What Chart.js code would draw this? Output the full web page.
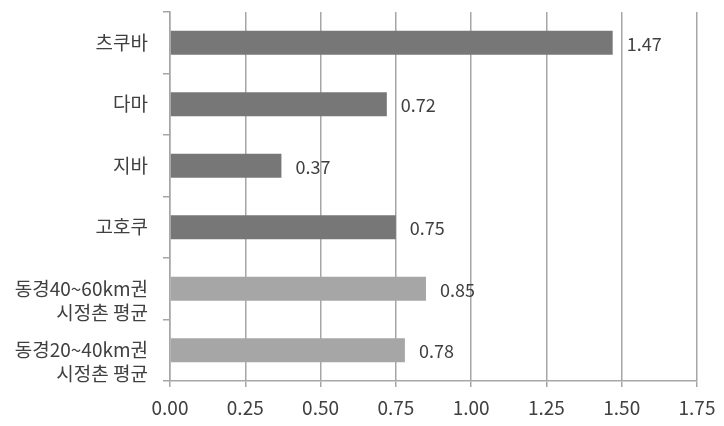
<!DOCTYPE html>
<html>
<head>
<meta charset="utf-8">
<script src="https://cdn.jsdelivr.net/npm/chart.js@4/dist/chart.umd.min.js"></script>
<style>
  html, body { margin: 0; padding: 0; background: #fff; }
  #wrap { width: 724px; height: 426px; }
</style>
</head>
<body>
<div id="wrap"><canvas id="chart1"></canvas></div>
<script>
var categories = ['츠쿠바', '다마', '지바', '고호쿠', ['동경40~60km권', '시정촌 평균'], ['동경20~40km권', '시정촌 평균']];
var values = [1.47, 0.72, 0.37, 0.75, 0.85, 0.78];
var barColors = ['#777777', '#777777', '#777777', '#777777', '#a6a6a6', '#a6a6a6'];

var FONT = '"Noto Sans CJK KR", sans-serif';

/* value labels at the end of each bar */
var valueLabels = {
    id: 'valueLabels',
    afterDatasetsDraw: function (chart) {
        var ctx = chart.ctx;
        var meta = chart.getDatasetMeta(0);
        ctx.save();
        ctx.font = '18px ' + FONT;
        ctx.fillStyle = '#404040';
        ctx.textBaseline = 'middle';
        ctx.textAlign = 'left';
        meta.data.forEach(function (bar, i) {
            ctx.fillText(values[i].toFixed(2), bar.x + 14, bar.y + 1);
        });
        ctx.restore();
    }
};

var ctx = document.getElementById('chart1').getContext('2d');
var chart1 = new Chart(ctx, {
    type: 'bar',
    data: {
        labels: categories,
        datasets: [{
            data: values,
            backgroundColor: barColors,
            borderWidth: 0,
            categoryPercentage: 0.8,
            barPercentage: 0.49
        }]
    },
    options: {
        indexAxis: 'y',
        responsive: true,
        maintainAspectRatio: false,
        animation: false,
        layout: { padding: { left: 0, right: 27, top: 12, bottom: 0 } },
        plugins: {
            legend: { display: false },
            tooltip: { enabled: false }
        },
        scales: {
            x: {
                min: 0,
                max: 1.75,
                ticks: {
                    stepSize: 0.25,
                    padding: 9,
                    color: '#404040',
                    font: { family: FONT, size: 19 },
                    callback: function (v) { return v.toFixed(2); }
                },
                grid: { color: '#a6a6a6', lineWidth: 1.5, tickLength: 6 },
                border: { color: '#a6a6a6', width: 1.5 },
                afterFit: function (scale) {
                    scale.height = 45;
                    scale.paddingLeft = 0;
                    scale.paddingRight = 0;
                }
            },
            y: {
                ticks: {
                    autoSkip: false,
                    padding: 15,
                    color: '#404040',
                    font: { family: FONT, size: 19, lineHeight: 1.25 },
                    // two-line labels: keep the first line level with the bar
                    callback: function (v, i) {
                        var lab = categories[i];
                        return Array.isArray(lab) ? [''].concat(lab) : lab;
                    }
                },
                grid: { offset: true, drawOnChartArea: false, color: '#a6a6a6', lineWidth: 1.5, tickLength: 7 },
                border: { color: '#a6a6a6', width: 1.5 },
                afterFit: function (scale) {
                    scale.width = 170;
                    scale.paddingTop = 0;
                    scale.paddingBottom = 0;
                }
            }
        }
    },
    plugins: [valueLabels]
});
</script>
</body>
</html>
